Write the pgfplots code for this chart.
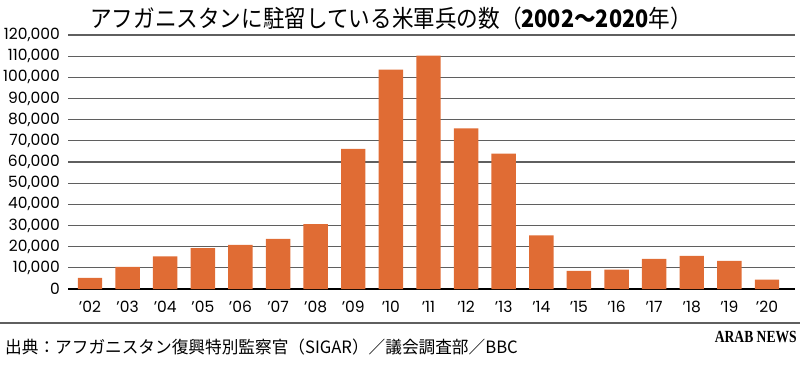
\documentclass[border=0pt]{standalone}
\usepackage{fontspec}
\usepackage{pgfplots}
\pgfplotsset{compat=1.18}
\newfontfamily\jp{Noto Sans CJK JP}
\newfontfamily\num{Poppins}
\newfontfamily\logo{Liberation Serif}
\definecolor{barc}{RGB}{224,108,52}
\definecolor{gridc}{RGB}{95,95,95}
\begin{document}
\begin{tikzpicture}[x=1pt,y=1pt]
\path[use as bounding box] (0,0) rectangle (800,370);
\begin{axis}[
  at={(68pt,81pt)}, anchor=south west,
  scale only axis, width=727pt, height=254pt,
  xmin=-0.585, xmax=18.745, ymin=0, ymax=120000,
  ytick={0,10000,...,120000},
  xtick={0,...,18},
  xticklabels={’02,’03,’04,’05,’06,’07,’08,’09,’10,’11,’12,’13,’14,’15,’16,’17,’18,’19,’20},
  scaled y ticks=false,
  ybar, bar width=0.65, bar shift=0pt,
  axis line style={draw=none}, major tick length=0pt,
  ymajorgrids, grid style={gridc, line width=1.3pt},
  extra y ticks={0}, extra y tick labels={},
  extra y tick style={grid style={black, line width=1.5pt}},
  yticklabel style={font=\num\fontsize{15.5}{15.5}\selectfont, anchor=east, inner sep=0pt, xshift=-8pt},
  xticklabel style={font=\num\fontsize{15.5}{15.5}\selectfont, anchor=north, inner sep=0pt, yshift=-12pt},
  /pgf/number format/.cd, fixed, precision=0, 1000 sep={,}, assume math mode=true,
]
\addplot[fill=barc, draw=none] table {
x y
0 5200
1 10500
2 15400
3 19300
4 20800
5 23700
6 30700
7 66200
8 103600
9 110200
10 75900
11 64000
12 25300
13 8600
14 9100
15 14200
16 15700
17 13300
18 4400
};
\end{axis}
\node[anchor=center] at (391,352) {\scalebox{0.9}[1]{\jp\fontsize{24}{24}\selectfont アフガニスタンに駐留している米軍兵の数（\textbf{2002〜2020}年）}};
\draw[gridc, line width=1.5pt] (0,47) -- (800,47);
\node[anchor=west, inner sep=0pt] at (5,23) {\scalebox{0.98}[1]{\jp\fontsize{17}{17}\selectfont 出典：アフガニスタン復興特別監察官（SIGAR）／議会調査部／BBC}};
\node[anchor=east, inner sep=0pt] at (797,33) {\scalebox{0.8}[1]{\logo\bfseries\fontsize{17}{17}\selectfont ARAB NEWS}};
\end{tikzpicture}
\end{document}
